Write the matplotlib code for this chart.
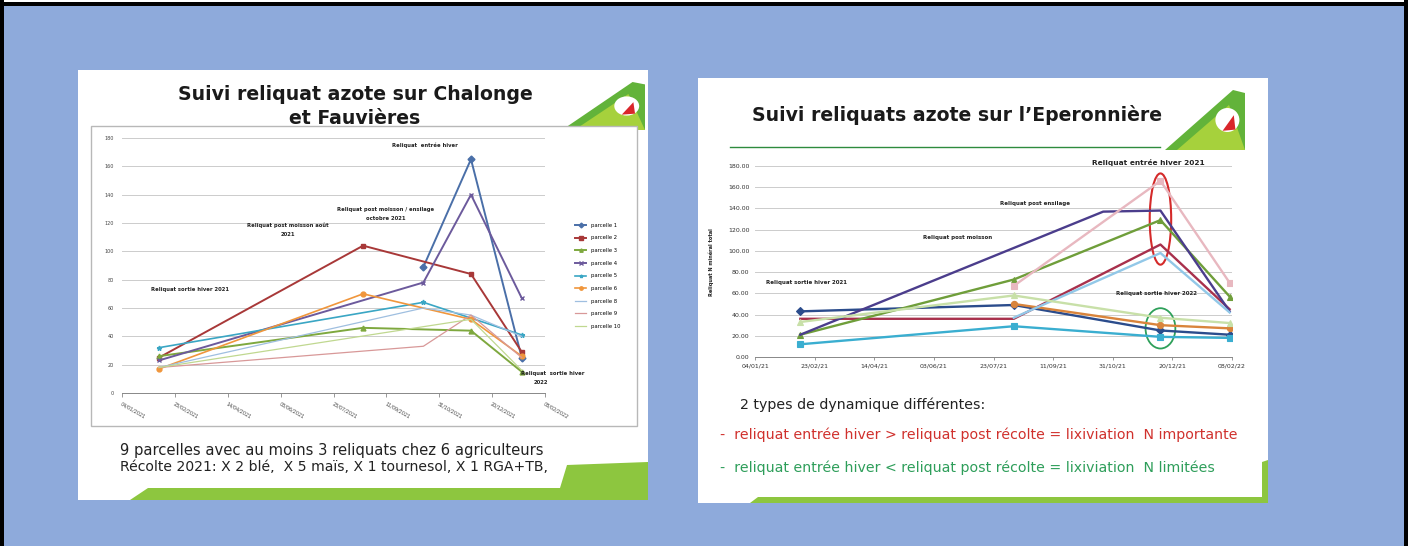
import numpy as np
import pandas as pd
import matplotlib
matplotlib.use('Agg')
import matplotlib.pyplot as plt
import matplotlib.dates as mdates
from matplotlib.patches import Rectangle, Polygon, Ellipse

W, H = 1408, 546

# Left slide: Chalonge et Fauvières (kg N/ha)
left_dates = ['08/02/2021', '20/08/2021', '16/10/2021', '30/11/2021', '17/01/2022']
parcelle_1 = [np.nan, np.nan, 89, 165, 25]
parcelle_2 = [25, 104, np.nan, 84, 29]
parcelle_3 = [26, 46, np.nan, 44, 15]
parcelle_4 = [23, np.nan, 78, 140, 67]
parcelle_5 = [32, np.nan, 64, np.nan, 41]
parcelle_6 = [17, 70, np.nan, 52, 26]
parcelle_8 = [18, np.nan, 60, 55, 40]
parcelle_9 = [18, np.nan, 33, 55, 25]
parcelle_10 = [18, np.nan, np.nan, 52, 16]
left_labels = ['parcelle 1', 'parcelle 2', 'parcelle 3', 'parcelle 4', 'parcelle 5',
               'parcelle 6', 'parcelle 8', 'parcelle 9', 'parcelle 10']

# Right slide: Eperonnière (Reliquat N minéral total)
right_dates = ['11/02/2021', '09/08/2021', '23/10/2021', '10/12/2021', '06/02/2022']
r_navy = [43, 49, np.nan, 25, 21]
r_maroon = [36, 36, np.nan, 106, 45]
r_olive = [21, 73, np.nan, 129, 57]
r_purple = [21, np.nan, 137, 138, 43]
r_teal = [12, 29, np.nan, 19, 18]
r_orange = [np.nan, 50, np.nan, 30, 27]
r_pink = [np.nan, 67, np.nan, 166, 70]
r_lightblue = [np.nan, 37, np.nan, 98, 42]
r_palegreen = [33, 58, np.nan, 37, 32]

fig = plt.figure(figsize=(W / 100, H / 100), dpi=100)
fig.patch.set_facecolor('#8eaadb')

bg = fig.add_axes([0, 0, 1, 1])
bg.set_xlim(0, W)
bg.set_ylim(H, 0)
bg.axis('off')


def px_axes(x0, y0, x1, y1):
    return fig.add_axes([x0 / W, 1 - y1 / H, (x1 - x0) / W, (y1 - y0) / H])


def draw(ax, dates, vals, **kw):
    d = mdates.date2num(pd.to_datetime(dates, dayfirst=True).to_pydatetime())
    v = np.array(vals, dtype=float)
    m = ~np.isnan(v)
    return ax.plot(d[m], v[m], **kw)[0]


def logo(x0, y0, x1, y1):
    w, h = x1 - x0, y1 - y0
    bg.add_patch(Polygon([(x0, y1), (x0 + 0.85 * w, y0), (x1, y0 + 0.05 * h), (x1, y1)],
                         closed=True, fc='#62b33a', ec='none'))
    bg.add_patch(Polygon([(x0 + 0.15 * w, y1), (x0 + 0.8 * w, y0 + 0.25 * h), (x1, y1)],
                         closed=True, fc='#a6d13c', ec='none'))
    bg.add_patch(Ellipse((x0 + 0.78 * w, y0 + 0.5 * h), 0.3 * w, 0.4 * h, fc='white', ec='none'))
    bg.add_patch(Polygon([(x0 + 0.72 * w, y0 + 0.68 * h), (x0 + 0.86 * w, y0 + 0.42 * h),
                          (x0 + 0.88 * w, y0 + 0.66 * h)], closed=True, fc='#d9262b', ec='none'))


# frame around the whole picture
bg.add_patch(Rectangle((0, 0), W, 2, fc='white', ec='none'))
bg.add_patch(Rectangle((0, 2), W, 4, fc='black', ec='none'))
bg.add_patch(Rectangle((0, 0), 4, H, fc='black', ec='none'))
bg.add_patch(Rectangle((W - 4, 0), 4, H, fc='black', ec='none'))

# ---------------- left slide ----------------
bg.add_patch(Rectangle((78, 70), 570, 430, fc='white', ec='none'))
bg.add_patch(Polygon([(130, 500), (148, 488), (560, 488), (567, 465), (648, 462), (648, 500)],
                     closed=True, fc='#8dc63f', ec='none'))
logo(562, 82, 645, 130)
bg.text(355, 95, 'Suivi reliquat azote sur Chalonge', ha='center', va='center',
        fontsize=13.6, fontweight='bold', color='#1a1a1a')
bg.text(355, 118, 'et Fauvières', ha='center', va='center',
        fontsize=13.6, fontweight='bold', color='#1a1a1a')
bg.add_patch(Rectangle((91, 126), 546, 300, fc='white', ec='#b8b8b8', lw=1))
bg.text(120, 450, '9 parcelles avec au moins 3 reliquats chez 6 agriculteurs',
        ha='left', va='center', fontsize=10.6, color='#222222')
bg.text(120, 467, 'Récolte 2021: X 2 blé,  X 5 maïs, X 1 tournesol, X 1 RGA+TB,',
        ha='left', va='center', fontsize=10.1, color='#222222')

ax1 = px_axes(122, 138, 545, 393)
left_series = [parcelle_1, parcelle_2, parcelle_3, parcelle_4, parcelle_5,
               parcelle_6, parcelle_8, parcelle_9, parcelle_10]
left_colors = ['#4a6fa8', '#a83838', '#7ea83e', '#6c5a9c', '#3aa6c4',
               '#f0963c', '#9fbfe0', '#d89898', '#c0d890']
left_markers = ['D', 's', '^', 'x', '*', 'o', None, None, None]
left_lw = [1.4, 1.4, 1.4, 1.4, 1.2, 1.2, 0.9, 0.9, 0.9]
handles = []
for vals, lab, c, mk, lw in zip(left_series, left_labels, left_colors, left_markers, left_lw):
    handles.append(draw(ax1, left_dates, vals, color=c, lw=lw, marker=mk, ms=3.5,
                        mew=1, label=lab))
lt = pd.date_range('2021-01-04', periods=9, freq='50D')
ax1.set_xlim(mdates.date2num(lt[0]), mdates.date2num(lt[-1]))
ax1.set_ylim(0, 180)
ax1.set_xticks(mdates.date2num(lt))
ax1.set_xticklabels([d.strftime('%d/%m/%Y') for d in lt], rotation=-30, ha='left',
                    va='top', rotation_mode='anchor', fontsize=3.5, color='#444444')
ax1.set_yticks(range(0, 181, 20))
ax1.tick_params(axis='y', length=0, labelsize=3.5, labelcolor='#444444', pad=6)
ax1.tick_params(axis='x', length=3, width=0.6, color='#888888', pad=3)
ax1.grid(axis='y', color='#cccccc', lw=0.7)
ax1.set_axisbelow(True)
for s in ['top', 'right', 'left']:
    ax1.spines[s].set_visible(False)
ax1.spines['bottom'].set_color('#888888')
ax1.spines['bottom'].set_linewidth(0.7)
ax1.legend(handles=handles, loc='upper left', bbox_to_anchor=(570 / W, 1 - 218 / H),
           bbox_transform=fig.transFigure, frameon=False, fontsize=3.8,
           handlelength=2.2, labelspacing=1.45, markerscale=0.7)

left_notes = [(425, 145, 'Reliquat  entrée hiver', 'center'),
              (386, 210, 'Reliquat post moisson / ensilage', 'center'),
              (386, 219, 'octobre 2021', 'center'),
              (288, 225, 'Reliquat post moisson août', 'center'),
              (288, 235, '2021', 'center'),
              (190, 290, 'Reliquat sortie hiver 2021', 'center'),
              (521, 373, 'Reliquat  sortie hiver', 'left'),
              (541, 382, '2022', 'center')]
for x, y, t, ha in left_notes:
    bg.text(x, y, t, ha=ha, va='center', fontsize=3.8, fontweight='bold',
            color='#222222', zorder=10)

# ---------------- right slide ----------------
bg.add_patch(Rectangle((698, 78), 570, 425, fc='white', ec='none'))
bg.add_patch(Polygon([(750, 503), (758, 497), (1262, 497), (1262, 462), (1268, 460), (1268, 503)],
                     closed=True, fc='#8dc63f', ec='none'))
logo(1165, 90, 1245, 150)
bg.text(957, 115, 'Suivi reliquats azote sur l’Eperonnière', ha='center', va='center',
        fontsize=13.6, fontweight='bold', color='#1a1a1a')
bg.plot([730, 1160], [147, 147], color='#2e8b3e', lw=1)
bg.text(740, 405, '2 types de dynamique différentes:', ha='left', va='center',
        fontsize=10.2, color='#222222')
bg.text(720, 435, '-  reliquat entrée hiver > reliquat post récolte = lixiviation  N importante',
        ha='left', va='center', fontsize=10.2, color='#d0312d')
bg.text(720, 468, '-  reliquat entrée hiver < reliquat post récolte = lixiviation  N limitées',
        ha='left', va='center', fontsize=10.2, color='#2e9e5a')
bg.text(711, 262, 'Reliquat N minéral total', rotation=90, ha='center', va='center',
        fontsize=3.6, fontweight='bold', color='#222222')

ax2 = px_axes(755, 166, 1232, 357)
right_series = [r_navy, r_maroon, r_olive, r_purple, r_teal, r_orange, r_pink,
                r_lightblue, r_palegreen]
right_colors = ['#2b4c8c', '#a8304c', '#6f9e3a', '#4b3d8c', '#3aaed0', '#d9843b',
                '#e8b8c0', '#92c8e8', '#c8e0a8']
right_markers = ['D', None, '^', None, 's', 'o', 's', None, '^']
for vals, c, mk in zip(right_series, right_colors, right_markers):
    draw(ax2, right_dates, vals, color=c, lw=1.7, marker=mk, ms=4.5, mew=0.8)
rt = pd.date_range('2021-01-04', periods=9, freq='50D')
ax2.set_xlim(mdates.date2num(rt[0]), mdates.date2num(rt[-1]))
ax2.set_ylim(0, 180)
ax2.set_xticks(mdates.date2num(rt))
ax2.set_xticklabels([d.strftime('%d/%m/%y') for d in rt], fontsize=4.5, color='#333333')
ax2.set_yticks(range(0, 181, 20))
ax2.set_yticklabels(['%.2f' % v for v in range(0, 181, 20)])
ax2.tick_params(axis='y', length=0, labelsize=4.5, labelcolor='#333333', pad=4)
ax2.tick_params(axis='x', length=2.5, width=0.6, color='#888888', pad=2)
ax2.grid(axis='y', color='#cccccc', lw=0.7)
ax2.set_axisbelow(True)
for s in ['top', 'right', 'left']:
    ax2.spines[s].set_visible(False)
ax2.spines['bottom'].set_color('#888888')
ax2.spines['bottom'].set_linewidth(0.7)

xc = mdates.date2num(pd.to_datetime(right_dates[3], dayfirst=True))
ax2.add_patch(Ellipse((xc, 130), 18, 86, fill=False, ec='#d42a2a', lw=1.5, clip_on=False))
ax2.add_patch(Ellipse((xc, 27), 25, 38, fill=False, ec='#2ea05a', lw=1.3, clip_on=False))

right_notes = [(1148, 163, 'Reliquat entrée hiver 2021', 5.3),
               (1035, 204, 'Reliquat post ensilage', 4),
               (958, 237, 'Reliquat post moisson', 4),
               (807, 282, 'Reliquat sortie hiver 2021', 4),
               (1157, 294, 'Reliquat sortie hiver 2022', 4)]
for x, y, t, fs in right_notes:
    bg.text(x, y, t, ha='center', va='center', fontsize=fs, fontweight='bold',
            color='#222222', zorder=10)

# annotation texts must sit above the chart axes
for t in list(bg.texts):
    t.remove()
    fig.text(t.get_position()[0] / W, 1 - t.get_position()[1] / H, t.get_text(),
             ha=t.get_ha(), va=t.get_va(), fontsize=t.get_fontsize(),
             fontweight=t.get_fontweight(), color=t.get_color(), rotation=t.get_rotation())

fig.savefig('out.png', dpi=100, facecolor=fig.get_facecolor())
